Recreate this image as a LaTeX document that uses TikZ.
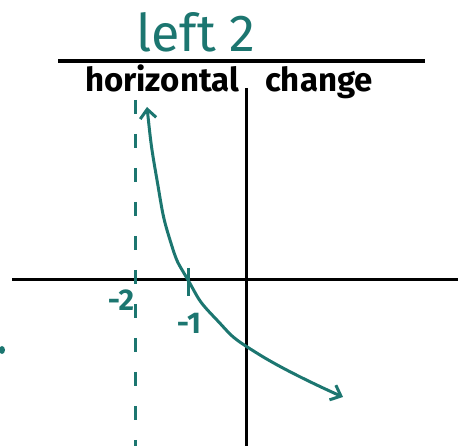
\documentclass[tikz,border=0pt]{standalone}
\usepackage{fontspec}
\setmainfont{Fira Sans}
\usetikzlibrary{arrows.meta}
\definecolor{teal1}{RGB}{28,118,112}
\tikzset{
  axis/.style={line width=3pt, black},
  curve/.style={line width=3pt, teal1, line cap=round, {Straight Barb[length=9pt,width=16pt,line width=3pt]}-{Straight Barb[length=9pt,width=16pt,line width=3pt]}},
  asym/.style={line width=3pt, teal1, dash pattern=on 14pt off 20pt},
  lbl/.style={text=teal1, font=\fontsize{30}{34}\selectfont\bfseries, inner sep=0pt},
  hw/.style={text=black, font=\fontsize{33}{38}\selectfont\bfseries, inner sep=0pt, anchor=base},
}
\begin{document}
\begin{tikzpicture}[x=1pt,y=-1pt]
\useasboundingbox (0,0) rectangle (472,446);
% title
\node[text=teal1, font=\fontsize{52}{60}\selectfont, inner sep=0pt, anchor=base] (title) at (196,52) {left 2};
\coordinate (barL) at (58,61);
\coordinate (barR) at (425,61);
\draw[line width=4pt] (barL) -- (barR);
\node[hw] (horiz) at (162,92) {horizontal};
\node[hw] (chg) at (319,92) {change};
% axes
\coordinate (xL) at (12,280);
\coordinate (xR) at (458,280);
\coordinate (yT) at (246,88);
\coordinate (yB) at (246,446);
\draw[axis] (xL) -- (xR);
\draw[axis] (yT) -- (yB);
% asymptote
\coordinate (aT) at (135,100);
\coordinate (aB) at (135,446);
\draw[asym] (aT) -- (aB);
% tick at -1
\coordinate (t1) at (188,268);
\coordinate (t2) at (188,296);
\draw[line width=3pt, teal1] (t1) -- (t2);
% labels
\node[lbl] (m2) at (121,300) {-2};
\node[lbl] (m1) at (189,323) {-1};
% curve
\draw[curve] plot[smooth, tension=0.9] coordinates {(147,107) (157,180) (170,240) (188,280) (215,318) (260,355) (343,397)};
% stray mark
\fill[teal1] (2,350) ellipse (3pt and 4pt);
\end{tikzpicture}
\end{document}
